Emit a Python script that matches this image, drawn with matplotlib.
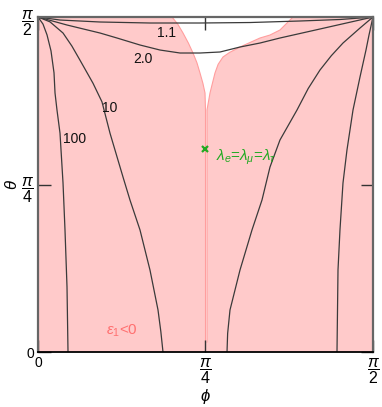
import matplotlib
matplotlib.use('Agg')
import matplotlib.pyplot as plt
import numpy as np

plt.rcParams['font.family'] = ['Liberation Sans', 'DejaVu Sans']
plt.rcParams['mathtext.fontset'] = 'custom'
plt.rcParams['mathtext.rm'] = 'Liberation Sans'
plt.rcParams['mathtext.it'] = 'Liberation Sans:italic'
plt.rcParams['mathtext.bf'] = 'Liberation Sans:bold'

# contour lines (phi, theta) in degrees
phi_100 = [0, 1.34, 2.42, 3.49, 4.30, 4.57, 5.10, 5.91, 6.72, 7.25, 7.79, 8.06]
th_100 = [90, 88.1, 85.2, 80.9, 75.0, 69.6, 65.0, 58.8, 45.4, 32.8, 17.5, 0]

phi_10 = [0, 3.22, 6.72, 9.10, 11.28, 13.2, 14.78, 17.19, 19.34, 22.84, 24.72,
          27.40, 30.09, 32.24, 33.00, 33.58]
th_10 = [90, 88.7, 85.7, 82.2, 78.4, 75.0, 72.2, 67.2, 58.8, 47.0, 40.8,
         32.8, 22.0, 11.3, 5.5, 0]

phi_2 = [0, 7.79, 16.66, 21.22, 27.40, 32.78, 38.15, 43.52, 48.90, 54.27, 59.64, 65.01, 75.76, 90]
th_2 = [90, 87.85, 85.70, 84.36, 82.48, 81.13, 80.33, 80.33, 80.60, 81.94, 83.01, 84.36, 86.78, 90]

phi_11 = [0, 5.91, 16.66, 30.09, 43.52, 56.96, 70.39, 81.13, 90]
th_11 = [90, 89.19, 88.66, 88.39, 88.39, 88.52, 88.93, 89.33, 90]

# right-hand branches
phi_10r = [90, 86.51, 81.94, 78.8, 75.76, 72.6, 69.58, 65.01, 62.33, 60.18, 57.49,
           54.27, 51.58, 50.95, 50.78]
th_10r = [90, 87.04, 83.01, 79.6, 75.76, 70.8, 65.01, 56.96, 49.70, 40.84, 32.78,
          22.03, 11.28, 5.0, 0]

phi_100r = [90, 88.93, 88.12, 86.51, 84.63, 83.01, 81.94, 81.13, 80.60, 80.33]
th_100r = [90, 85.16, 81.13, 73.88, 65.01, 54.27, 45.40, 32.78, 22.03, 0]

# boundary of the region where eps1 >= 0 (white cusp + thin sliver at pi/4)
phi_wl = [36.0, 37.6, 38.96, 40.4, 41.64, 42.7, 43.52, 44.3, 44.87, 45.0, 45.0]
th_wl = [90, 88.0, 85.70, 83.0, 80.33, 77.7, 74.96, 72.2, 69.58, 65.01, 2.7]
phi_wr = [68.51, 65.01, 62.33, 59.64, 54.27, 51.5, 49.70, 48.4, 47.55, 46.21, 45.4, 45.4]
th_wr = [90, 86.51, 85.16, 84.36, 81.94, 80.5, 79.25, 77.3, 74.96, 69.58, 65.01, 2.7]

contour_labels = ['1.1', '2.0', '10', '100']
label_pos = [(34.4, 85.7), (28.2, 78.6), (19.3, 65.6), (9.7, 57.2)]

point_phi, point_theta = 45.0, 54.5

fig = plt.figure(figsize=(3.82, 4.07), dpi=100)
ax = fig.add_axes([0.0995, 0.1351, 0.8769, 0.8231])
ax.set_xlim(0, 90)
ax.set_ylim(0, 90)
ax.set_facecolor('#ffcaca')

wx = np.concatenate([phi_wl, phi_wr[::-1]])
wy = np.concatenate([th_wl, th_wr[::-1]])
ax.fill(wx, wy, color='white', lw=0, zorder=1)
ax.plot(phi_wl, th_wl, color='#ff9e9e', lw=0.8, zorder=1.5)
ax.plot(phi_wr, th_wr, color='#ff9e9e', lw=0.8, zorder=1.5)

for px, py in [(phi_100, th_100), (phi_10, th_10), (phi_2, th_2), (phi_11, th_11),
               (phi_10r, th_10r), (phi_100r, th_100r)]:
    ax.plot(px, py, color='#3a3a3a', lw=0.9, zorder=2)

for lab, (lx, ly) in zip(contour_labels, label_pos):
    ax.text(lx, ly, lab, fontsize=10, ha='center', va='center', color='#111111', zorder=3)

ax.plot(point_phi, point_theta, marker='x', color='#22aa22', ms=4.5, mew=1.6, zorder=4)
ax.text(47.8, 52.3, r'$\lambda_e$=$\lambda_\mu$=$\lambda_\tau$', color='#22aa22',
        fontsize=11, ha='left', va='center', zorder=4)
ax.text(22.6, 5.8, r'$\epsilon_1$<0', color='#ff7070', fontsize=11, ha='center', va='center', zorder=4)

ticks = [0, 45, 90]
ticklabels = ['0', r'$\dfrac{\pi}{4}$', r'$\dfrac{\pi}{2}$']
ax.set_xticks(ticks)
ax.set_xticklabels(ticklabels)
ax.set_yticks(ticks)
ax.set_yticklabels(ticklabels)
ax.tick_params(direction='in', length=9, width=1.0, top=True, right=True,
               labelsize=10, color='#333333', pad=3)
for lab in ax.get_xticklabels()[1:] + ax.get_yticklabels()[1:]:
    lab.set_fontsize(11.5)

for side in ['left', 'right', 'top']:
    ax.spines[side].set_color('#666666')
    ax.spines[side].set_linewidth(1.6)
ax.spines['bottom'].set_color('black')
ax.spines['bottom'].set_linewidth(1.3)

ax.set_xlabel(r'$\phi$', fontsize=12)
ax.set_ylabel(r'$\theta$', fontsize=12)
ax.xaxis.set_label_coords(0.5, -0.103)
ax.yaxis.set_label_coords(-0.055, 0.5)

fig.savefig('out.png', dpi=100)
